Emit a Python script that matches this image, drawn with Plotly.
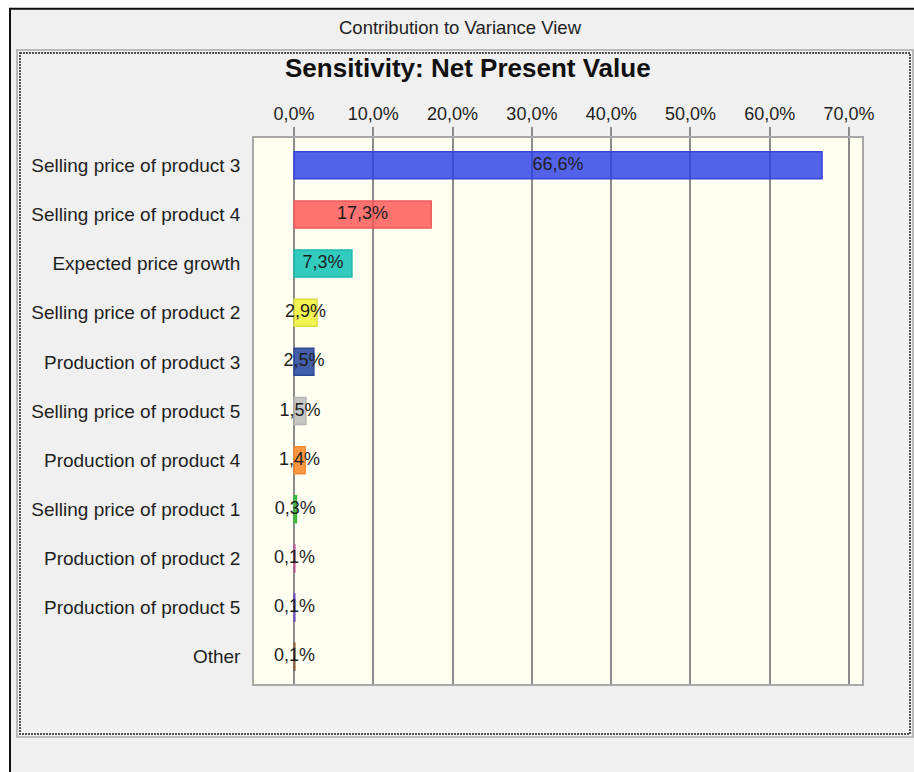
import plotly.graph_objects as go

# ---- data ----
categories = [
    "Selling price of product 3",
    "Selling price of product 4",
    "Expected price growth",
    "Selling price of product 2",
    "Production of product 3",
    "Selling price of product 5",
    "Production of product 4",
    "Selling price of product 1",
    "Production of product 2",
    "Production of product 5",
    "Other",
]
contribution_pct = [66.6, 17.3, 7.3, 2.9, 2.5, 1.5, 1.4, 0.3, 0.1, 0.1, 0.1]
bar_colors = [
    "rgba(40,60,230,0.8)", "rgba(255,80,80,0.8)", "rgba(0,190,175,0.8)",
    "rgba(240,240,40,0.8)", "rgba(20,55,150,0.8)", "rgba(185,185,185,0.8)",
    "rgba(250,125,20,0.8)", "rgba(40,180,40,0.8)", "rgba(200,80,160,0.8)",
    "rgba(120,80,200,0.8)", "rgba(150,100,60,0.8)",
]
border_colors = [
    "#3444dc", "#ee5a5a", "#20b8ab", "#dede40", "#2a4a98", "#b4b4b4",
    "#ee8a30", "#3cb43c", "#b85a98", "#7050c0", "#8a6040",
]
tick_values = [0, 10, 20, 30, 40, 50, 60, 70]
tick_labels = [f"{v:.1f}%".replace(".", ",") for v in tick_values]

labels = [f"{v:.1f}%".replace(".", ",") for v in contribution_pct]
label_x = [v / 2 for v in contribution_pct]

W, H = 914, 772
L, T = 254, 138
R = W - 862
B = H - 684
PW, PH = W - L - R, H - T - B


def xp(px):  # window pixel -> paper x
    return (px - L) / PW


def yp(py):  # window pixel -> paper y
    return (H - B - py) / PH


FONT = "Liberation Sans, Arial, sans-serif"
TXT = "#1e1e1e"

fig = go.Figure()
fig.add_trace(go.Bar(
    x=contribution_pct, y=categories, orientation="h",
    marker=dict(color=bar_colors, line=dict(color=border_colors, width=1.5)),
    width=0.55, hoverinfo="skip", showlegend=False,
))
fig.add_trace(go.Scatter(
    x=label_x, y=categories, mode="text", text=labels,
    textfont=dict(family=FONT, size=18, color=TXT),
    cliponaxis=False, hoverinfo="skip", showlegend=False,
))

grid_c = "#8c8c8c"
fig.update_xaxes(
    side="top", range=[-5.05, 71.64], tickvals=tick_values, ticktext=tick_labels,
    showgrid=True, gridcolor=grid_c, gridwidth=1.5,
    zeroline=True, zerolinecolor=grid_c, zerolinewidth=1.5,
    ticks="outside", ticklen=9, tickcolor=grid_c, tickwidth=1.5,
    showline=True, mirror=True, linecolor="#a8a8a8", linewidth=1.5,
    tickfont=dict(family=FONT, size=18, color=TXT),
    fixedrange=True,
)
fig.update_yaxes(
    autorange="reversed", showgrid=False, ticks="",
    showline=True, mirror=True, linecolor="#a8a8a8", linewidth=1.5,
    tickfont=dict(family=FONT, size=19, color=TXT),
    ticklabelstandoff=8, fixedrange=True,
)

shapes = [
    # white outside the window frame
    dict(type="rect", xref="paper", yref="paper", x0=xp(0), x1=xp(W), y0=yp(0), y1=yp(8),
         fillcolor="white", line=dict(width=0), layer="below"),
    dict(type="rect", xref="paper", yref="paper", x0=xp(0), x1=xp(9), y0=yp(0), y1=yp(H),
         fillcolor="white", line=dict(width=0), layer="below"),
    # black window border
    dict(type="line", xref="paper", yref="paper", x0=xp(9), x1=xp(W), y0=yp(8.8), y1=yp(8.8),
         line=dict(color="#101010", width=2)),
    dict(type="line", xref="paper", yref="paper", x0=xp(10), x1=xp(10), y0=yp(8), y1=yp(H),
         line=dict(color="#101010", width=2)),
    # gray solid panel outline
    dict(type="rect", xref="paper", yref="paper", x0=xp(17), x1=xp(913), y0=yp(50), y1=yp(737),
         line=dict(color="#a8a8a8", width=1.5), layer="below"),
    # dotted panel outline
    dict(type="rect", xref="paper", yref="paper", x0=xp(20), x1=xp(910), y0=yp(53), y1=yp(734),
         line=dict(color="#505050", width=2, dash="2px,1px"), layer="below"),
]

annotations = [
    dict(text="Contribution to Variance View", xref="paper", yref="paper",
         x=xp(460), y=yp(27), xanchor="center", yanchor="middle", showarrow=False,
         font=dict(family=FONT, size=18.5, color=TXT)),
    dict(text="<b>Sensitivity: Net Present Value</b>", xref="paper", yref="paper",
         x=xp(468), y=yp(68), xanchor="center", yanchor="middle", showarrow=False,
         font=dict(family=FONT, size=26, color="#101010")),
]

fig.update_layout(
    width=W, height=H,
    margin=dict(l=L, r=R, t=T, b=B),
    paper_bgcolor="#f0f0f0", plot_bgcolor="#fffff2",
    bargap=0.45,
    shapes=shapes, annotations=annotations,
    showlegend=False,
)

fig.write_html(
    "out.html",
    config={"displayModeBar": False},
    post_script="document.body.style.margin='0';document.body.style.overflow='hidden';",
)
